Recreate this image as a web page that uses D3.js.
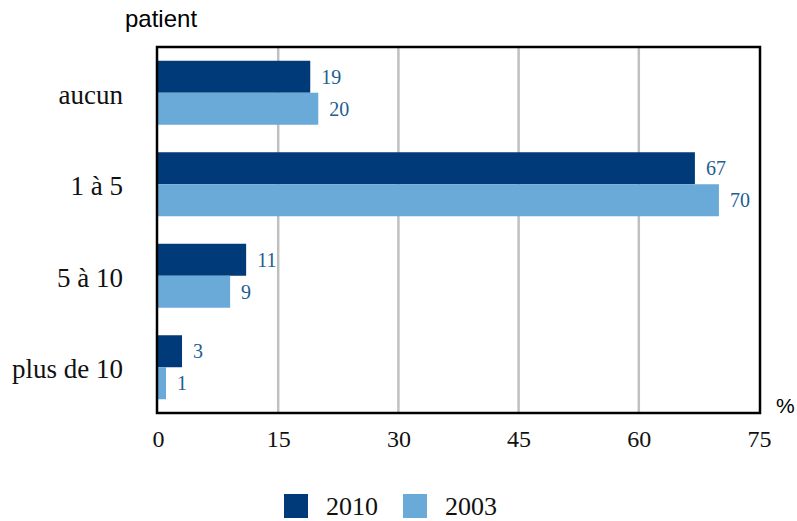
<!DOCTYPE html>
<html>
<head>
<meta charset="utf-8">
<script src="https://d3js.org/d3.v7.min.js"></script>
<style>
body { margin: 0; background: #fff; }
.tick text { font-family: "Liberation Serif", serif; font-size: 24px; fill: #111; }
.cat text { font-family: "Liberation Serif", serif; font-size: 27px; fill: #111; }
.val { font-family: "Liberation Serif", serif; font-size: 20px; fill: #1d5e92; }
</style>
</head>
<body>
<svg id="chart" width="797" height="521"></svg>
<script>
var categories = ["aucun", "1 à 5", "5 à 10", "plus de 10"];
var values2010 = [19, 67, 11, 3];
var values2003 = [20, 70, 9, 1];
var seriesNames = ["2010", "2003"];
var xTicks = [0, 15, 30, 45, 60, 75];
var colors = ["#003a78", "#6aaad9"];

var svg = d3.select("#chart");
var pLeft = 158, pRight = 759, pTop = 47, pBottom = 413;

var x = d3.scaleLinear().domain([0, 75]).range([pLeft, pRight]);
var y = d3.scaleBand().domain(categories).range([pTop, pBottom]);
var bh = 32;

// gridlines
svg.append("g").selectAll("line")
  .data(xTicks.slice(1, -1))
  .enter().append("line")
    .attr("x1", function(d) { return x(d); })
    .attr("x2", function(d) { return x(d); })
    .attr("y1", pTop).attr("y2", pBottom)
    .attr("stroke", "#c0c0c0").attr("stroke-width", 2.5);

var series = [values2010, values2003];
series.forEach(function(vals, si) {
  var g = svg.append("g");
  g.selectAll("rect").data(vals).enter().append("rect")
    .attr("x", x(0))
    .attr("y", function(d, i) { return y(categories[i]) + y.bandwidth() / 2 - bh + si * bh; })
    .attr("width", function(d) { return x(d) - x(0); })
    .attr("height", bh)
    .attr("fill", colors[si]);
  g.selectAll("text").data(vals).enter().append("text")
    .attr("class", "val")
    .attr("x", function(d) { return x(d) + 11; })
    .attr("y", function(d, i) { return y(categories[i]) + y.bandwidth() / 2 - bh + si * bh + bh / 2 + 7; })
    .text(function(d) { return d; });
});

// frame
svg.append("rect")
  .attr("x", 157).attr("y", pTop)
  .attr("width", 603).attr("height", pBottom - pTop)
  .attr("fill", "none").attr("stroke", "#000").attr("stroke-width", 2.5);

// x axis labels
var xa = svg.append("g")
  .attr("transform", "translate(0," + pBottom + ")")
  .call(d3.axisBottom(x).tickValues(xTicks).tickSize(0).tickPadding(17));
xa.select(".domain").remove();
xa.selectAll("text").attr("fill", "#111");

// category labels
var ya = svg.append("g").attr("class", "cat")
  .attr("transform", "translate(" + pLeft + ",0)")
  .call(d3.axisLeft(y).tickSize(0).tickPadding(35));
ya.select(".domain").remove();
ya.selectAll("text").attr("fill", "#111").attr("dy", "0.4em").style("font-size", "27px");

svg.append("text").attr("x", 125).attr("y", 27)
  .style("font-family", "Liberation Sans, Arial, sans-serif").style("font-size", "24px")
  .text("patient");
svg.append("text").attr("x", 776).attr("y", 413)
  .style("font-family", "Liberation Sans, Arial, sans-serif").style("font-size", "21px")
  .text("%");

// legend
var lx = [284, 403];
seriesNames.forEach(function(n, i) {
  svg.append("rect").attr("x", lx[i]).attr("y", 494).attr("width", 24).attr("height", 24).attr("fill", colors[i]);
  svg.append("text").attr("x", lx[i] + 42).attr("y", 515)
    .style("font-family", "Liberation Serif, serif").style("font-size", "26px").attr("fill", "#111")
    .text(n);
});
</script>
</body>
</html>
